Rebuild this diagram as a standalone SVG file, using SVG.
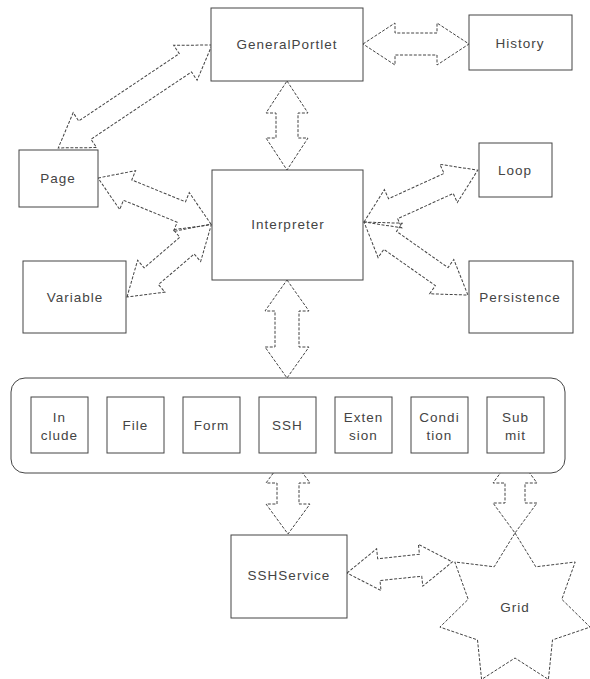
<svg xmlns="http://www.w3.org/2000/svg" width="590" height="679" viewBox="0 0 590 679">
<style>
.box{fill:#fff;stroke:#444;stroke-width:1}
.arr{fill:none;stroke:#444;stroke-width:1;stroke-dasharray:3 1.6}
.t{font-family:"Liberation Sans",Arial,sans-serif;font-size:13.5px;fill:#444;text-anchor:middle;letter-spacing:1px}
</style>
<rect width="590" height="679" fill="#fff"/>
<g id="connectors">
  <path class="arr" transform="translate(363,44)" d="M0,0 L32,-21 L32,-11 L74,-11 L74,-21 L106,0 L74,21 L74,11 L32,11 L32,21 Z"/>
  <path class="arr" transform="translate(287,81) rotate(90)" d="M0,0 L32,-21 L32,-11 L57,-11 L57,-21 L89,0 L57,21 L57,11 L32,11 L32,21 Z"/>
  <path class="arr" transform="translate(212,45) rotate(146.2)" d="M0,0 L32,-21 L32,-11 L153,-11 L153,-21 L185,0 L153,21 L153,11 L32,11 L32,21 Z"/>
  <path class="arr" transform="translate(98,178) rotate(22.2)" d="M0,0 L32,-21 L32,-11 L90,-11 L90,-21 L122,0 L90,21 L90,11 L32,11 L32,21 Z"/>
  <path class="arr" transform="translate(127,297) rotate(-40.6)" d="M0,0 L32,-21 L32,-11 L79,-11 L79,-21 L111,0 L79,21 L79,11 L32,11 L32,21 Z"/>
  <path class="arr" transform="translate(364,222) rotate(-24.5)" d="M0,0 L32,-21 L32,-11 L93,-11 L93,-21 L125,0 L93,21 L93,11 L32,11 L32,21 Z"/>
  <path class="arr" transform="translate(364,222) rotate(35.1)" d="M0,0 L32,-21 L32,-11 L95,-11 L95,-21 L127,0 L95,21 L95,11 L32,11 L32,21 Z"/>
  <path class="arr" transform="translate(287,280) rotate(90)" d="M0,0 L31,-22 L31,-12 L67,-12 L67,-22 L98,0 L67,22 L67,12 L31,12 L31,22 Z"/>
  <path class="arr" transform="translate(288,453) rotate(90)" d="M0,0 L30,-22 L30,-11 L51,-11 L51,-22 L81,0 L51,22 L51,11 L30,11 L30,22 Z"/>
  <path class="arr" transform="translate(515,453) rotate(90)" d="M0,0 L30,-22 L30,-10 L50,-10 L50,-22 L80,0 L50,22 L50,10 L30,10 L30,22 Z"/>
  <path class="arr" transform="translate(347,573) rotate(-6)" d="M0,0 L32,-21 L32,-11 L74,-11 L74,-21 L106,0 L74,21 L74,11 L32,11 L32,21 Z"/>
</g>
<g id="generalportlet">
  <rect class="box" x="211" y="8" width="152" height="73"/>
  <text class="t" x="287" y="49">GeneralPortlet</text>
</g>
<g id="history">
  <rect class="box" x="469" y="15" width="103" height="55"/>
  <text class="t" x="520" y="48">History</text>
</g>
<g id="page">
  <rect class="box" x="19" y="150" width="79" height="57"/>
  <text class="t" x="58" y="183">Page</text>
</g>
<g id="interpreter">
  <rect class="box" x="212" y="170" width="151" height="110"/>
  <text class="t" x="288" y="229">Interpreter</text>
</g>
<g id="variable">
  <rect class="box" x="23" y="261" width="103" height="72"/>
  <text class="t" x="75" y="302">Variable</text>
</g>
<g id="loop">
  <rect class="box" x="479" y="143" width="73" height="54"/>
  <text class="t" x="515" y="175">Loop</text>
</g>
<g id="persistence">
  <rect class="box" x="469" y="261" width="104" height="72"/>
  <text class="t" x="520" y="302">Persistence</text>
</g>
<g id="container">
  <rect class="box" x="11" y="378" width="554" height="95" rx="14" ry="14"/>
</g>
<g id="include">
  <rect class="box" x="31" y="397" width="57" height="56"/>
  <text class="t" x="59.5" y="422">In</text>
  <text class="t" x="59.5" y="440">clude</text>
</g>
<g id="file">
  <rect class="box" x="107" y="397" width="57" height="56"/>
  <text class="t" x="135.5" y="430">File</text>
</g>
<g id="form">
  <rect class="box" x="183" y="397" width="57" height="56"/>
  <text class="t" x="211.5" y="430">Form</text>
</g>
<g id="ssh">
  <rect class="box" x="259" y="397" width="57" height="56"/>
  <text class="t" x="287.5" y="430">SSH</text>
</g>
<g id="extension">
  <rect class="box" x="335" y="397" width="57" height="56"/>
  <text class="t" x="363.5" y="422">Exten</text>
  <text class="t" x="363.5" y="440">sion</text>
</g>
<g id="condition">
  <rect class="box" x="411" y="397" width="57" height="56"/>
  <text class="t" x="439.5" y="422">Condi</text>
  <text class="t" x="439.5" y="440">tion</text>
</g>
<g id="submit">
  <rect class="box" x="487" y="397" width="57" height="56"/>
  <text class="t" x="515.5" y="422">Sub</text>
  <text class="t" x="515.5" y="440">mit</text>
</g>
<g id="sshservice">
  <rect class="box" x="231" y="535" width="116" height="83"/>
  <text class="t" x="289" y="580">SSHService</text>
</g>
<g id="grid">
  <polygon class="arr" fill="#fff" points="515,533 535.8,566.8 575.2,562 561.8,599.3 590.1,627.1 552.5,639.9 548.4,679.4 515,658 481.6,679.4 477.5,639.9 439.9,627.1 468.2,599.3 454.8,562 494.2,566.8"/>
  <text class="t" x="515" y="612">Grid</text>
</g>
</svg>
